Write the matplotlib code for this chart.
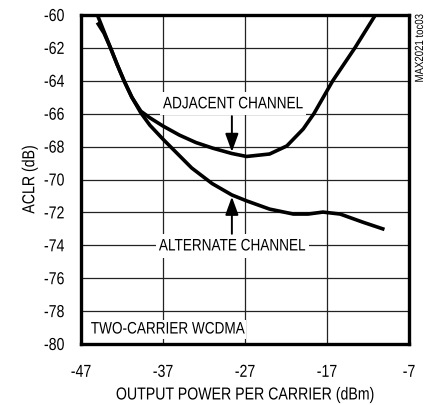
import matplotlib
matplotlib.use("Agg")
import matplotlib.pyplot as plt
from matplotlib.patheffects import AbstractPathEffect
from matplotlib.transforms import Affine2D

plt.rcParams['font.family'] = ['Liberation Sans', 'DejaVu Sans']

adj_x = [-45.0, -44.2, -43.4, -42.6, -41.75, -40.8, -39.7, -38.6, -37.0, -35.0,
         -33.0, -30.9, -28.6, -26.8, -24.0, -21.9, -19.9, -18.6, -16.3,
         -13.6, -11.1]
adj_y = [-60.0, -61.0, -62.0, -63.0, -64.0, -65.0, -65.85, -66.25, -66.75, -67.3,
         -67.75, -68.1, -68.42, -68.6, -68.45, -67.96, -66.93, -66.0, -64.0,
         -62.0, -60.0]

alt_x = [-44.9, -44.2, -43.4, -42.6, -41.75, -40.8, -39.7, -38.6, -37.0, -35.2,
         -33.5, -31.0, -28.6, -26.8, -24.0, -21.1, -19.3, -17.5, -15.4, -12.6,
         -10.2]
alt_y = [-60.55, -61.1, -62.0, -63.0, -64.0, -65.0, -65.95, -66.7, -67.55, -68.45,
         -69.3, -70.25, -70.94, -71.3, -71.8, -72.1, -72.1, -71.98, -72.1, -72.6,
         -73.0]

x_ticks = [-47, -37, -27, -17, -7]
y_ticks = [-60, -62, -64, -66, -68, -70, -72, -74, -76, -78, -80]

SQ = 0.815  # horizontal squeeze to imitate a narrow typeface


class Condense(AbstractPathEffect):
    def __init__(self, text, s=SQ, anchor='left', vertical=False):
        super().__init__()
        self.text, self.s, self.anchor, self.vertical = text, s, anchor, vertical

    def draw_path(self, renderer, gc, tpath, affine, rgbFace=None):
        bb = self.text.get_window_extent(renderer)
        if self.vertical:
            a = {'bottom': bb.y0, 'center': 0.5 * (bb.y0 + bb.y1), 'top': bb.y1}[self.anchor]
            t = Affine2D().translate(0, -a).scale(1, self.s).translate(0, a)
        else:
            a = {'left': bb.x0, 'center': 0.5 * (bb.x0 + bb.x1), 'right': bb.x1}[self.anchor]
            t = Affine2D().translate(-a, 0).scale(self.s, 1).translate(a, 0)
        renderer.draw_path(gc, tpath, affine + t, rgbFace)


def squeeze(t, anchor, vertical=False):
    t.set_path_effects([Condense(t, SQ, anchor, vertical)])
    bp = t.get_bbox_patch()
    if bp is not None:
        bp.set_path_effects([Condense(t, SQ, anchor, vertical)])


fig = plt.figure(figsize=(4.26, 4.06), dpi=100)
ax = fig.add_axes([81/426, 1-345/406, 328/426, 329/406])
ax.set_xlim(-47, -7)
ax.set_ylim(-80, -60)
ax.set_xticks(x_ticks)
ax.set_yticks(y_ticks)
ax.set_xticklabels([str(v) for v in x_ticks])
ax.set_yticklabels([str(v) for v in y_ticks])
ax.tick_params(length=0, labelsize=12.5)
ax.tick_params(axis='x', pad=15)
ax.tick_params(axis='y', pad=12)
ax.grid(True, color='#222222', linewidth=0.9)
ax.set_axisbelow(True)
for s in ax.spines.values():
    s.set_linewidth(2.4)
    s.set_zorder(6)

ax.plot(adj_x, adj_y, color='black', linewidth=2.6, solid_joinstyle='round', zorder=3)
ax.plot(alt_x, alt_y, color='black', linewidth=2.6, solid_joinstyle='round', zorder=3)

t1 = ax.text(-37.0, -65.4, 'ADJACENT CHANNEL', fontsize=12, ha='left', va='center',
             bbox=dict(facecolor='white', edgecolor='none', pad=3), zorder=4)
t2 = ax.text(-37.5, -74.04, 'ALTERNATE CHANNEL', fontsize=12, ha='left', va='center',
             bbox=dict(facecolor='white', edgecolor='none', pad=3), zorder=4)
t3 = ax.text(-45.8, -79.09, 'TWO-CARRIER WCDMA', fontsize=12, ha='left', va='center',
             bbox=dict(facecolor='white', edgecolor='none', pad=1.5), zorder=4)

arrow = dict(arrowstyle='-|>,head_length=1.1,head_width=0.4',
             color='black', lw=1.4, shrinkA=0, shrinkB=0)
ax.annotate('', xy=(-28.6, -68.32), xytext=(-28.6, -66.15), arrowprops=arrow, zorder=5)
ax.annotate('', xy=(-28.6, -71.05), xytext=(-28.6, -73.3), arrowprops=arrow, zorder=5)

ax.set_xlabel('OUTPUT POWER PER CARRIER (dBm)', fontsize=12.5, labelpad=5.5)
ax.set_ylabel('ACLR (dB)', fontsize=12.5, labelpad=1.5)

t4 = fig.text(420/426, 1-15/406, 'MAX2021 toc03', rotation=90, fontsize=8.5,
              ha='center', va='top')

fig.canvas.draw()
for lab in ax.get_xticklabels():
    squeeze(lab, 'center')
for lab in ax.get_yticklabels():
    squeeze(lab, 'right')
for t in (t1, t2, t3):
    squeeze(t, 'left')
squeeze(ax.xaxis.label, 'center')
squeeze(ax.yaxis.label, 'center', vertical=True)
squeeze(t4, 'top', vertical=True)

fig.savefig('out.png', dpi=100)
